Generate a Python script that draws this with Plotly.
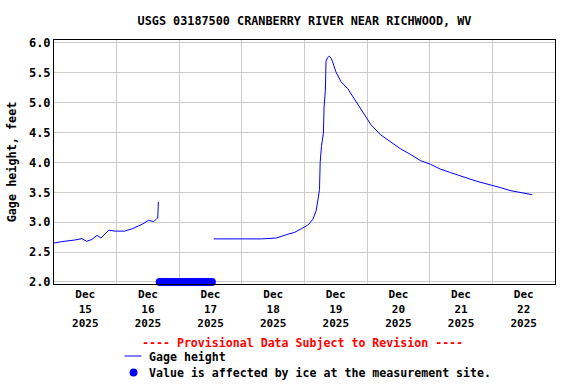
import plotly.graph_objects as go

# ---- data ----
gage_times = [
    "2025-12-15 00:00", "2025-12-15 03:00", "2025-12-15 07:45", "2025-12-15 10:45",
    "2025-12-15 12:30", "2025-12-15 14:30", "2025-12-15 16:30", "2025-12-15 18:00",
    "2025-12-15 19:30", "2025-12-15 21:00", "2025-12-15 23:30", "2025-12-16 03:00",
    "2025-12-16 06:00", "2025-12-16 09:45", "2025-12-16 12:15", "2025-12-16 14:15",
    "2025-12-16 15:30", "2025-12-16 15:45", "2025-12-16 16:00",
    "2025-12-17 00:00",  # gap (no data, ice affected)
    "2025-12-17 13:15", "2025-12-17 18:00", "2025-12-18 00:00", "2025-12-18 07:30",
    "2025-12-18 13:15", "2025-12-18 17:45", "2025-12-18 20:15", "2025-12-18 22:45",
    "2025-12-19 01:15", "2025-12-19 03:15", "2025-12-19 04:30", "2025-12-19 05:15",
    "2025-12-19 05:45", "2025-12-19 06:00", "2025-12-19 06:30", "2025-12-19 07:15",
    "2025-12-19 07:30", "2025-12-19 08:00", "2025-12-19 08:15", "2025-12-19 08:45",
    "2025-12-19 09:30", "2025-12-19 10:15", "2025-12-19 10:45", "2025-12-19 12:00",
    "2025-12-19 14:00", "2025-12-19 16:30", "2025-12-19 19:00", "2025-12-19 22:15",
    "2025-12-20 01:30", "2025-12-20 05:15", "2025-12-20 09:00", "2025-12-20 12:45",
    "2025-12-20 16:45", "2025-12-20 20:30", "2025-12-21 00:15", "2025-12-21 04:00",
    "2025-12-21 08:00", "2025-12-21 11:45", "2025-12-21 15:30", "2025-12-21 19:15",
    "2025-12-21 23:00", "2025-12-22 03:00", "2025-12-22 06:45", "2025-12-22 10:30",
    "2025-12-22 15:15",
]
gage_values = [
    2.65, 2.675, 2.70, 2.725,
    2.68, 2.71, 2.78, 2.735,
    2.80, 2.865, 2.85, 2.85,
    2.89, 2.965, 3.03, 3.01,
    3.065, 3.07, 3.34,
    None,
    2.72, 2.715, 2.72, 2.72,
    2.735, 2.80, 2.83, 2.89,
    2.95, 3.05, 3.20, 3.40,
    3.55, 4.00, 4.27, 4.49,
    4.93, 5.21, 5.69, 5.75,
    5.78, 5.74, 5.69, 5.52,
    5.35, 5.24, 5.075, 4.85,
    4.63, 4.46, 4.34, 4.23,
    4.13, 4.03, 3.97, 3.89,
    3.83, 3.77, 3.72, 3.67,
    3.63, 3.58, 3.53, 3.50,
    3.46,
]

ice_times = [
    "2025-12-16 16:30", "2025-12-16 17:30", "2025-12-16 18:30", "2025-12-16 19:30",
    "2025-12-16 20:30", "2025-12-16 21:30", "2025-12-16 22:30", "2025-12-16 23:30",
    "2025-12-17 00:30", "2025-12-17 01:30", "2025-12-17 02:30", "2025-12-17 03:30",
    "2025-12-17 04:30", "2025-12-17 05:30", "2025-12-17 06:30", "2025-12-17 07:30",
    "2025-12-17 08:30", "2025-12-17 09:30", "2025-12-17 10:30", "2025-12-17 11:30",
    "2025-12-17 12:30",
]
ice_values = [2.0] * len(ice_times)

label_times = ["2025-12-15 12:00", "2025-12-16 12:00", "2025-12-17 12:00", "2025-12-18 12:00",
               "2025-12-19 12:00", "2025-12-20 12:00", "2025-12-21 12:00", "2025-12-22 12:00"]
label_text = ["Dec<br>15<br>2025", "Dec<br>16<br>2025", "Dec<br>17<br>2025", "Dec<br>18<br>2025",
              "Dec<br>19<br>2025", "Dec<br>20<br>2025", "Dec<br>21<br>2025", "Dec<br>22<br>2025"]
grid_times = ["2025-12-16", "2025-12-17", "2025-12-18", "2025-12-19",
              "2025-12-20", "2025-12-21", "2025-12-22"]
y_ticks = [2.0, 2.5, 3.0, 3.5, 4.0, 4.5, 5.0, 5.5, 6.0]

FONT = "DejaVu Sans Mono"
BLUE = "#0000FF"

fig = go.Figure()
fig.add_trace(go.Scatter(x=gage_times, y=gage_values, mode="lines",
                         line=dict(color=BLUE, width=1), connectgaps=False,
                         name="Gage height", showlegend=False))
fig.add_trace(go.Scatter(x=ice_times, y=ice_values, mode="markers",
                         marker=dict(color=BLUE, size=8, line=dict(width=0)),
                         cliponaxis=False,
                         name="Value is affected by ice at the measurement site.",
                         showlegend=False))

L, R, T, B = 51, 21, 40, 100
W, H = 576, 384
pw, ph = W - L - R, H - T - B

def px(x):
    return (x - L) / pw

def py(y):
    return (H - B - y) / ph

fig.update_layout(
    width=W, height=H,
    margin=dict(l=L, r=R, t=T, b=B),
    paper_bgcolor="white", plot_bgcolor="white",
    font=dict(family=FONT, size=12, color="black", weight="bold"),
    title=dict(text="USGS 03187500 CRANBERRY RIVER NEAR RICHWOOD, WV",
               x=0.5, xref="paper", xanchor="center",
               y=1 - 21 / H, yref="container", yanchor="middle",
               font=dict(family=FONT, size=11.8, weight="bold")),
    xaxis=dict(
        type="date", range=["2025-12-15 00:00", "2025-12-23 00:00"],
        tickmode="array", tickvals=label_times, ticktext=label_text,
        showgrid=False, ticks="", zeroline=False,
        tickfont=dict(family=FONT, size=11, weight="bold"),
        showline=True, linecolor="black", linewidth=1, mirror=True,
        minor=dict(tickmode="array", tickvals=grid_times, showgrid=True,
                   gridcolor="#CCCCCC", gridwidth=1, ticks=""),
    ),
    yaxis=dict(
        range=[1.965, 6.05], tickmode="array", tickvals=y_ticks, tickformat=".1f",
        showgrid=True, gridcolor="#CCCCCC", gridwidth=1, ticks="", zeroline=False,
        tickfont=dict(family=FONT, size=12, weight="bold"),
        showline=True, linecolor="black", linewidth=1, mirror=True,
        title=dict(text="Gage height, feet", standoff=9,
                   font=dict(family=FONT, size=11.8, weight="bold")),
    ),
    showlegend=False,
)

# legend block (drawn below the plot)
fig.add_annotation(text="---- Provisional Data Subject to Revision ----",
                   xref="paper", yref="paper", x=px(301), y=py(343),
                   xanchor="center", yanchor="middle", showarrow=False,
                   font=dict(family=FONT, size=11.6, color="#FF0000", weight="bold"))
fig.add_annotation(text="Gage height", xref="paper", yref="paper",
                   x=px(145), y=py(356.5), xanchor="left", yanchor="middle", showarrow=False,
                   font=dict(family=FONT, size=11.6, color="black", weight="bold"))
fig.add_annotation(text="Value is affected by ice at the measurement site.",
                   xref="paper", yref="paper", x=px(145), y=py(372.5),
                   xanchor="left", yanchor="middle", showarrow=False,
                   font=dict(family=FONT, size=11.6, color="black", weight="bold"))
fig.add_shape(type="line", xref="paper", yref="paper",
              x0=px(122), x1=px(139), y0=py(356), y1=py(356),
              line=dict(color=BLUE, width=1))
fig.add_shape(type="circle", xref="paper", yref="paper",
              x0=px(127), x1=px(135), y0=py(368.5), y1=py(376.5),
              fillcolor=BLUE, line=dict(width=0))

fig.write_html("out.html",
               config={"displayModeBar": False},
               post_script="document.body.style.margin='0';document.body.style.padding='0';")
